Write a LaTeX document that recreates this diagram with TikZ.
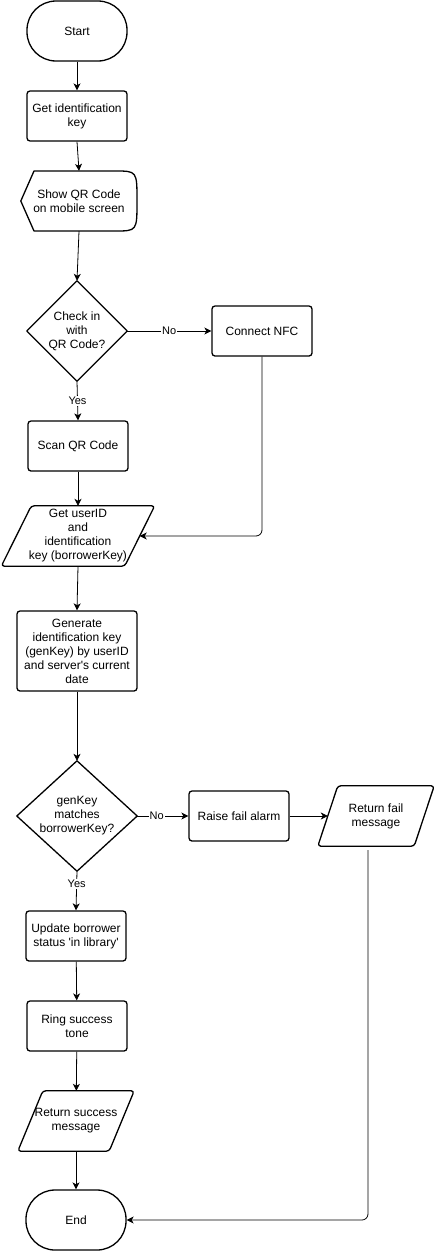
\documentclass[tikz,border=0pt]{standalone}
\usepackage{fontspec}
\setmainfont{Liberation Sans}[Ligatures=TeXOff]
\usetikzlibrary{arrows.meta,calc}
\begin{document}
\begin{tikzpicture}[x=1pt,y=-1pt,
  txt/.style={align=center,inner sep=0pt,font=\fontsize{12}{14}\selectfont},
  boxed/.style={txt,draw,line width=1.3pt,rounded corners=3pt,minimum width=100pt,minimum height=50pt},
  term/.style={txt,draw,line width=1.3pt,rounded corners=29pt,minimum width=100pt,minimum height=60pt},
  outline/.style={draw,line width=1.3pt,rounded corners=3pt,line join=round},
  conn/.style={draw,line width=0.8pt,-{Stealth[length=7pt,width=7pt,inset=2pt]}},
  lbl/.style={fill=white,inner sep=1pt,font=\fontsize{11}{13}\selectfont}]
\useasboundingbox (0,0) rectangle (435,1253);
% nodes
\node[term] (start) at (77,31) {Start};
\node[boxed] (gik) at (77,116) {Get identification\\key};
\node[txt,minimum width=116pt,minimum height=60pt] (show) at (79,201) {Show QR Code\\on mobile screen};
\draw[outline,rounded corners=0pt] (show.west) -- (34,171) -- (115,171) .. controls (137,171) .. (137,201) .. controls (137,231) .. (115,231) -- (34,231) -- cycle;
\node[txt,minimum width=100pt,minimum height=100pt] (chk) at (77,331) {Check in\\with\\QR Code?};
\draw[outline,rounded corners=0pt] (chk.north) -- (chk.east) -- (chk.south) -- (chk.west) -- cycle;
\node[boxed] (nfc) at (262,331) {Connect NFC};
\node[boxed] (scan) at (78,446) {Scan QR Code};
\node[txt,minimum width=153pt,minimum height=60pt] (uid) at (78,536) {Get userID\\and\\identification\\key (borrowerKey)};
\draw[outline] (uid.south west) -- ($(uid.north west)+(30,0)$) -- (uid.north east) -- ($(uid.south east)-(30,0)$) -- cycle;
\coordinate (uidR) at ($(uid.east)-(15,0)$);
\node[boxed,minimum width=120pt,minimum height=80pt] (gen) at (77,651) {Generate\\identification key\\(genKey) by userID\\and server's current\\date};
\node[txt,minimum width=120pt,minimum height=110pt] (match) at (77,816) {genKey\\matches\\borrowerKey?};
\draw[outline,rounded corners=0pt] (match.north) -- (match.east) -- (match.south) -- (match.west) -- cycle;
\node[boxed] (raise) at (239,816) {Raise fail alarm};
\node[txt,minimum width=116pt,minimum height=60pt] (rfm) at (376,816) {Return fail\\message};
\draw[outline] (rfm.south west) -- ($(rfm.north west)+(20,0)$) -- (rfm.north east) -- ($(rfm.south east)-(20,0)$) -- cycle;
\coordinate (rfmL) at ($(rfm.west)+(10,0)$);
\coordinate (rfmB) at ($(rfm.south)+(-8,4)$);
\node[boxed] (upd) at (76,936) {Update borrower\\status 'in library'};
\node[boxed] (ring) at (77,1026) {Ring success\\tone};
\node[txt,minimum width=116pt,minimum height=60pt] (rsm) at (76,1121) {Return success\\message};
\draw[outline] (rsm.south west) -- ($(rsm.north west)+(25,0)$) -- (rsm.north east) -- ($(rsm.south east)-(25,0)$) -- cycle;
\node[term] (end) at (76,1220) {End};
% connectors
\draw[conn] (start) -- (gik);
\draw[conn] (gik.south) -- (show.north);
\draw[conn] (show.south) -- (chk.north);
\draw[conn] (chk.east) -- node[lbl] {No} (nfc.west);
\draw[conn] (chk.south) -- node[lbl] {Yes} (scan.north);
\draw[conn] (scan) -- (uid);
\draw[conn,rounded corners=6pt] (nfc.south) |- (uidR);
\draw[conn] (uid.south) -- (gen.north);
\draw[conn] (gen.south) -- (match.north);
\draw[conn] (match.east) -- node[lbl,pos=0.38] {No} (raise.west);
\draw[conn] (raise.east) -- (rfmL);
\draw[conn] (match.south) -- node[lbl,pos=0.33] {Yes} (upd.north);
\draw[conn] (upd) -- (ring);
\draw[conn] (ring) -- (rsm);
\draw[conn] (rsm) -- (end);
\draw[conn,rounded corners=6pt] (rfmB) |- (end.east);
\end{tikzpicture}
\end{document}
